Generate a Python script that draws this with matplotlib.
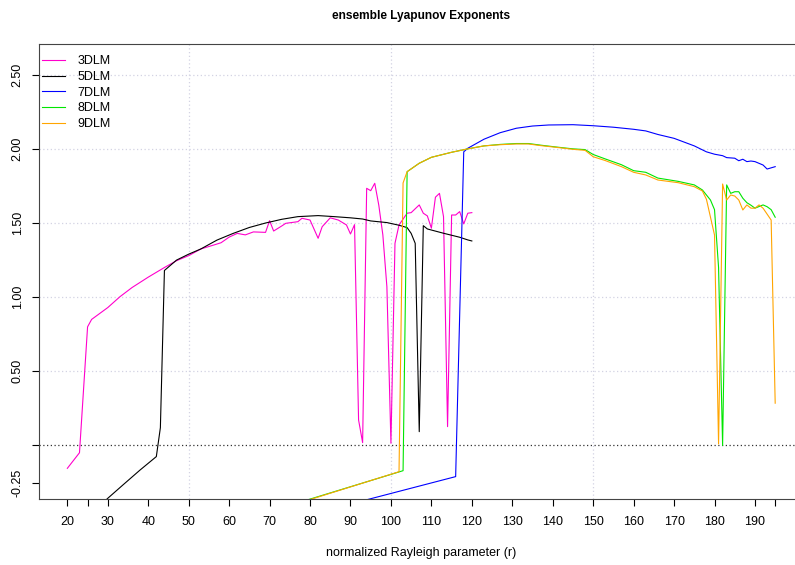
import matplotlib
matplotlib.use("Agg")
import matplotlib.pyplot as plt
import numpy as np

plt.rcParams['font.family'] = ['Liberation Sans', 'DejaVu Sans']

# values
r_3 = [20, 23, 25, 26, 30, 33, 36, 40, 44, 47, 50, 53, 56, 58, 60, 62, 64, 66, 69, 70,
       71, 73, 74, 77, 78, 80, 82, 83, 85, 87, 89, 90, 91, 92, 93, 94, 95, 96, 97, 98,
       99, 100, 101, 102, 104, 105, 107, 108, 109, 110, 111, 112, 113, 114, 115, 116,
       117, 118, 119, 120]
le_3 = [-0.154, -0.049, 0.80, 0.85, 0.93, 1.003, 1.065, 1.135, 1.20, 1.246, 1.28, 1.325,
        1.35, 1.367, 1.405, 1.43, 1.42, 1.44, 1.437, 1.516,
        1.446, 1.48, 1.498, 1.509, 1.532, 1.52, 1.397, 1.475, 1.535, 1.52, 1.487, 1.426,
        1.489, 0.172, 0.019, 1.734, 1.718, 1.768, 1.62, 1.42,
        1.07, 0.015, 1.363, 1.487, 1.566, 1.57, 1.622, 1.566, 1.548, 1.465, 1.674, 1.70,
        1.543, 0.127, 1.554, 1.554, 1.577, 1.494, 1.566, 1.57]

r_5 = [26, 30, 34, 38, 42, 43, 44, 47, 50, 53, 57, 61, 65, 69, 73, 77, 82, 86, 90, 93,
       95, 99, 102, 104, 105, 106, 107, 108, 109, 113, 117, 119, 120]
le_5 = [-0.46, -0.356, -0.26, -0.165, -0.075, 0.12, 1.18, 1.25, 1.29, 1.325, 1.385, 1.43,
        1.47, 1.50, 1.525, 1.543, 1.55, 1.543, 1.535, 1.527,
        1.514, 1.503, 1.485, 1.469, 1.43, 1.363, 0.093, 1.482, 1.46, 1.431, 1.404, 1.386,
        1.379]

r_7 = [85, 116, 118, 119, 123, 127, 131, 135, 139, 145, 150, 155, 160, 163, 166, 170,
       175, 178, 180, 182, 183, 185, 186, 187, 188, 189, 190, 192, 193, 195]
le_7 = [-0.43, -0.21, 1.98, 2.004, 2.065, 2.109, 2.139, 2.154, 2.161, 2.163, 2.156, 2.146,
        2.132, 2.121, 2.097, 2.071, 2.02, 1.98, 1.964, 1.954, 1.941, 1.937, 1.92, 1.93,
        1.914, 1.918, 1.914, 1.891, 1.864, 1.88]

r_8 = [70, 103, 104, 107, 110, 115, 119, 123, 127, 131, 134, 137, 141, 145, 148, 150,
       153, 157, 160, 163, 166, 171, 175, 177, 179, 180, 181, 182, 183, 184, 185, 186,
       187, 188, 189, 190, 192, 193, 194, 195]
le_8 = [-0.445, -0.17, 1.846, 1.903, 1.943, 1.977, 2.0, 2.02, 2.03, 2.036, 2.036, 2.025,
        2.012, 2.0, 1.995, 1.962, 1.932, 1.893, 1.853, 1.842, 1.803, 1.781, 1.757, 1.723,
        1.655, 1.59, 1.2, 0.0, 1.757, 1.70, 1.711, 1.711, 1.667, 1.637, 1.62, 1.60, 1.622,
        1.61, 1.59, 1.539]

r_9 = [70, 102, 103, 104, 107, 110, 115, 119, 123, 127, 131, 134, 137, 141, 145, 148,
       150, 153, 157, 160, 163, 166, 171, 175, 177, 178, 180, 181, 182, 183, 184, 185,
       186, 187, 188, 189, 190, 191, 192, 194, 195]
le_9 = [-0.45, -0.177, 1.77, 1.846, 1.903, 1.943, 1.977, 2.0, 2.02, 2.028, 2.033, 2.033,
        2.022, 2.01, 1.997, 1.99, 1.947, 1.921, 1.88, 1.842, 1.824, 1.79, 1.772, 1.745,
        1.716, 1.66, 1.419, 0.01, 1.763, 1.655, 1.689, 1.682, 1.655, 1.588, 1.622, 1.60,
        1.60, 1.622, 1.60, 1.52, 0.285]

labels = ['3DLM', '5DLM', '7DLM', '8DLM', '9DLM']
colors = ['#FF00CC', '#000000', '#0000FF', '#00E600', '#FFA500']

x_ticks = [20, 25] + list(range(30, 200, 10)) + [195]
x_ticklabels = ['20', ''] + [str(v) for v in range(30, 200, 10)] + ['']
y_ticks = [-0.25, 0, 0.5, 1.0, 1.5, 2.0, 2.5]
y_ticklabels = ['-0.25', '', '0.50', '1.00', '1.50', '2.00', '2.50']

fig = plt.figure(figsize=(7.95, 5.65), dpi=100)
ax = fig.add_axes([0.0491, 0.1168, 0.9616, 0.8053])

# light dotted grid, then zero line
for gx in [50, 100, 150]:
    ax.axvline(gx, color='#D3D3E3', lw=0.9, ls=(0, (1, 2)), zorder=0)
for gy in [0.5, 1.0, 1.5, 2.0, 2.5]:
    ax.axhline(gy, color='#D3D3E3', lw=0.9, ls=(0, (1, 2)), zorder=0)
ax.axhline(0, color='#333333', lw=0.9, ls=(0, (1, 2)), zorder=1)

series = [(r_3, le_3), (r_5, le_5), (r_7, le_7), (r_8, le_8), (r_9, le_9)]
for (xs, ys), lab, col in zip(series, labels, colors):
    ax.plot(xs, ys, color=col, lw=0.8, label=lab, zorder=2)

ax.set_xlim(13, 202)
ax.set_ylim(-0.361, 2.707)
ax.set_xticks(x_ticks)
ax.set_xticklabels(x_ticklabels)
ax.set_yticks(y_ticks)
ax.set_yticklabels(y_ticklabels, rotation=90, va='center')
ax.tick_params(axis='both', labelsize=9, length=5, width=0.8, color='#000000')
ax.tick_params(axis='x', pad=7)
ax.tick_params(axis='y', pad=6)
for sp in ax.spines.values():
    sp.set_linewidth(0.8)
    sp.set_color('#444444')

ax.set_xlabel('normalized Rayleigh parameter (r)', fontsize=9, labelpad=14)
ax.set_title('ensemble Lyapunov Exponents', fontsize=8.6, fontweight='bold', pad=18)

ax.legend(loc='upper left', bbox_to_anchor=(0.004, 0.975), frameon=False, fontsize=9,
          handlelength=1.85, handletextpad=0.95, labelspacing=0.29, borderpad=0,
          borderaxespad=0)

fig.savefig('out.png', dpi=100)
